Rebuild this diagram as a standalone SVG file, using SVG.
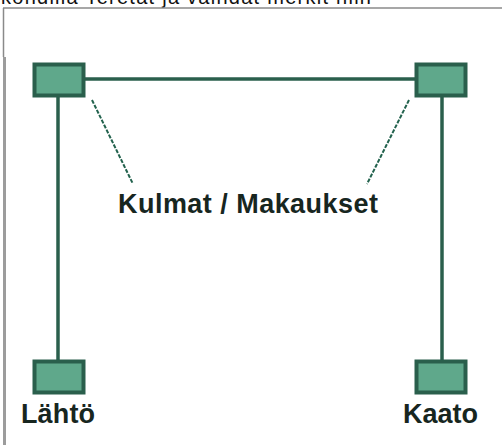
<svg xmlns="http://www.w3.org/2000/svg" width="502" height="445" viewBox="0 0 502 445">
<style>
.box{fill:#5fa88b;stroke:#2a5f4c;stroke-width:4}
.wire{stroke:#2a5f4c;stroke-width:3.5;fill:none}
.lead{stroke:#22624d;stroke-width:2;stroke-dasharray:4 1.5;fill:none}
.lbl{font-family:"Liberation Sans",Arial,sans-serif;font-weight:bold;font-size:27px;fill:#17261f}
.cap{font-family:"Liberation Sans",Arial,sans-serif;font-size:20px;fill:#111}
</style>
<rect width="502" height="445" fill="#fff"/>
<text class="cap" x="1" y="4" textLength="370">kohdilla Teretat ja vaihdat merkit niin</text>
<g id="frame">
<line x1="3" y1="8" x2="502" y2="8" stroke="#8a8a8a" stroke-width="1.5"/>
<line x1="3.5" y1="8" x2="3.5" y2="57" stroke="#8a8a8a" stroke-width="1.5"/>
<rect x="3" y="57" width="3" height="388" fill="#9c9c9c"/>
</g>
<g id="connectors">
<line class="wire" x1="85" y1="79" x2="415" y2="79"/>
<line class="wire" x1="58" y1="97" x2="58" y2="360"/>
<line class="wire" x1="442" y1="97" x2="442" y2="360"/>
<line class="lead" x1="92" y1="100" x2="133" y2="184"/>
<line class="lead" x1="409" y1="100" x2="367" y2="184"/>
</g>
<g id="corner-left"><rect class="box" x="34.5" y="64.5" width="49" height="31"/></g>
<g id="corner-right"><rect class="box" x="416.5" y="64.5" width="49" height="31"/></g>
<g id="lahto"><rect class="box" x="34.5" y="361.5" width="49" height="31"/><text class="lbl" x="21" y="423" textLength="74">Lähtö</text></g>
<g id="kaato"><rect class="box" x="416.5" y="361.5" width="49" height="31"/><text class="lbl" x="403" y="423" textLength="75">Kaato</text></g>
<g id="kulmat"><text class="lbl" x="118" y="213" textLength="260">Kulmat / Makaukset</text></g>
</svg>
